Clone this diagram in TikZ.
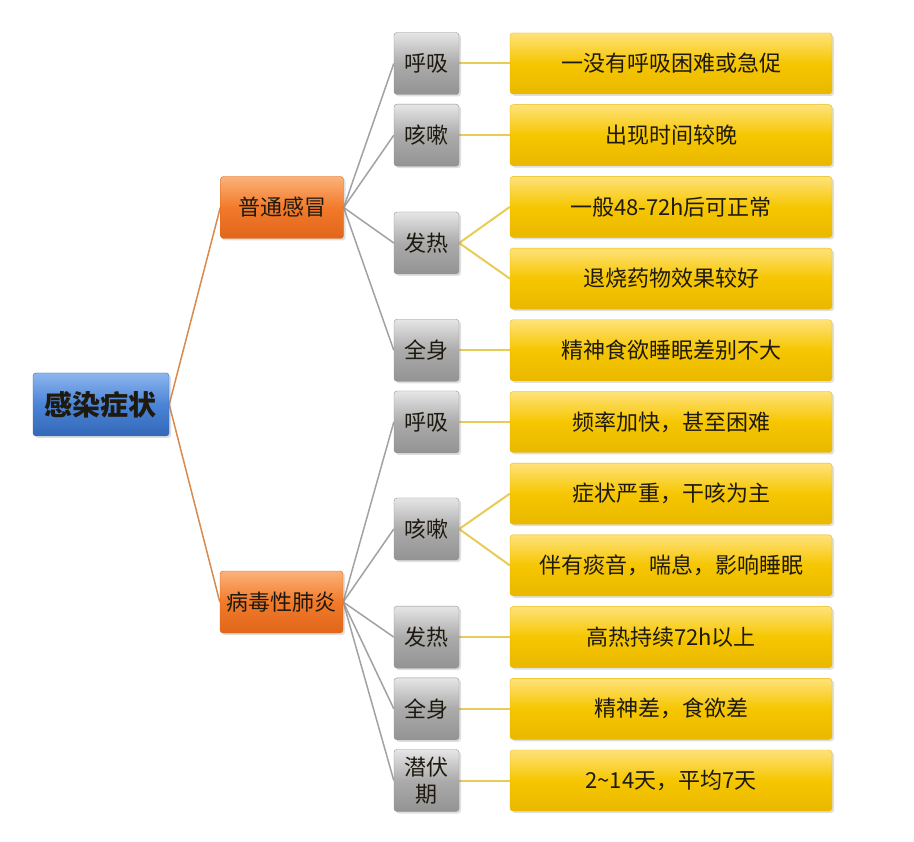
\documentclass[tikz,border=0pt]{standalone}
\usepackage{fontspec}
\setmainfont{Noto Sans CJK SC}
\usetikzlibrary{shadows,backgrounds}
\definecolor{bluetop}{HTML}{8DB6EE}
\definecolor{bluemid}{HTML}{4A84D6}
\definecolor{bluebot}{HTML}{3468B8}
\definecolor{orgtop}{HTML}{FBB27A}
\definecolor{orgmid}{HTML}{F27A2A}
\definecolor{orgbot}{HTML}{E0661A}
\definecolor{grytop}{HTML}{E6E6E6}
\definecolor{grymid}{HTML}{ABABAB}
\definecolor{grybot}{HTML}{939393}
\definecolor{yeltop}{HTML}{FFE27A}
\definecolor{yelmid}{HTML}{F6C600}
\definecolor{yelbot}{HTML}{E9B800}
\definecolor{txt}{HTML}{1E1A10}
\definecolor{lineorg}{HTML}{D98A4E}
\definecolor{linegry}{HTML}{A2A2A2}
\definecolor{lineyel}{HTML}{E9CC55}
\tikzset{
  boxbase/.style={rounded corners=3pt, inner sep=0pt, text=txt,
    drop shadow={opacity=0.25, shadow xshift=2pt, shadow yshift=-2pt}},
  rootbox/.style={boxbase, draw=bluebot, top color=bluetop, bottom color=bluebot, middle color=bluemid,
    minimum width=136pt, minimum height=63pt, font=\fontsize{28}{32}\selectfont\bfseries},
  orgbox/.style={boxbase, draw=orgbot, top color=orgtop, bottom color=orgbot, middle color=orgmid,
    minimum width=123pt, minimum height=62pt, font=\fontsize{22}{26}\selectfont},
  grybox/.style={boxbase, draw=grybot, top color=grytop, bottom color=grybot, middle color=grymid,
    minimum width=65pt, minimum height=62pt, align=center, font=\fontsize{22}{27}\selectfont},
  yelbox/.style={boxbase, draw=yelbot, top color=yeltop, bottom color=yelbot, middle color=yelmid,
    minimum width=322pt, minimum height=61pt, font=\fontsize{22}{26}\selectfont},
  l1/.style={draw=lineorg, line width=1.5pt},
  l2/.style={draw=linegry, line width=1.5pt},
  l3/.style={draw=lineyel, line width=2pt},
}
\begin{document}
\begin{tikzpicture}[x=1pt,y=-1pt]
\useasboundingbox (0,0) rectangle (914,842);
% root
\node[rootbox] (root) at (101,404.5) {感染症状};
% level 1
\node[orgbox] (o1) at (282,207.5) {普通感冒};
\node[orgbox] (o2) at (281.5,602) {病毒性肺炎};
% level 2
\node[grybox] (g1) at (426.5,63.5) {呼吸};
\node[grybox] (g2) at (426.5,135.2) {咳嗽};
\node[grybox] (g3) at (426.5,243) {发热};
\node[grybox] (g4) at (426.5,350.3) {全身};
\node[grybox] (g5) at (426.5,422) {呼吸};
\node[grybox] (g6) at (426.5,529) {咳嗽};
\node[grybox] (g7) at (426.5,637.1) {发热};
\node[grybox] (g8) at (426.5,708.8) {全身};
\node[grybox] (g9) at (426.5,780.5) {潜伏\\期};
% level 3
\node[yelbox] (y1) at (671,63.5) {一没有呼吸困难或急促};
\node[yelbox] (y2) at (671,135.2) {出现时间较晚};
\node[yelbox] (y3) at (671,206.9) {一般48-72h后可正常};
\node[yelbox] (y4) at (671,278.6) {退烧药物效果较好};
\node[yelbox] (y5) at (671,350.3) {精神食欲睡眠差别不大};
\node[yelbox] (y6) at (671,422) {频率加快，甚至困难};
\node[yelbox] (y7) at (671,493.7) {症状严重，干咳为主};
\node[yelbox] (y8) at (671,565.4) {伴有痰音，喘息，影响睡眠};
\node[yelbox] (y9) at (671,637.1) {高热持续72h以上};
\node[yelbox] (y10) at (671,708.8) {精神差，食欲差};
\node[yelbox] (y11) at (671,780.5) {2\textasciitilde14天，平均7天};
\begin{scope}[on background layer]
\fill[white] (0,0) rectangle (914,842);
\draw[l1] (root.east) -- (o1.west);
\draw[l1] (root.east) -- (o2.west);
\foreach \g in {g1,g2,g3,g4} \draw[l2] (o1.east) -- (\g.west);
\foreach \g in {g5,g6,g7,g8,g9} \draw[l2] (o2.east) -- (\g.west);
\draw[l3] (g1.east) -- (y1.west);
\draw[l3] (g2.east) -- (y2.west);
\draw[l3] (g3.east) -- (y3.west);
\draw[l3] (g3.east) -- (y4.west);
\draw[l3] (g4.east) -- (y5.west);
\draw[l3] (g5.east) -- (y6.west);
\draw[l3] (g6.east) -- (y7.west);
\draw[l3] (g6.east) -- (y8.west);
\draw[l3] (g7.east) -- (y9.west);
\draw[l3] (g8.east) -- (y10.west);
\draw[l3] (g9.east) -- (y11.west);
\end{scope}
\end{tikzpicture}
\end{document}
